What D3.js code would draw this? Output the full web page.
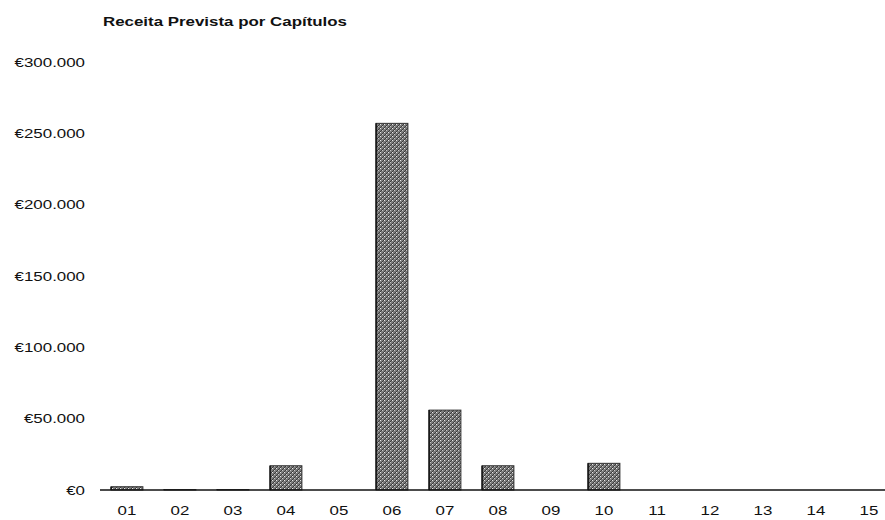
<!DOCTYPE html>
<html>
<head>
<meta charset="utf-8">
<script src="https://cdn.jsdelivr.net/npm/d3@7"></script>
<style>
  html, body { margin: 0; padding: 0; background: #fff; }
  svg { display: block; }
  text { font-family: "Liberation Sans", Arial, sans-serif; fill: #111; }
</style>
</head>
<body>
<svg id="chart" width="885" height="520"></svg>
<script>
const title = "Receita Prevista por Capítulos";
const categories = ["01","02","03","04","05","06","07","08","09","10","11","12","13","14","15"];
const values = [2300, 300, 300, 17000, 0, 257000, 56000, 17000, 0, 18700, 0, 0, 0, 0, 0];
const yTicks = [0, 50000, 100000, 150000, 200000, 250000, 300000];
const yTickLabels = ["€0","€50.000","€100.000","€150.000","€200.000","€250.000","€300.000"];

const svg = d3.select("#chart");
const SX = 1.3; // horizontal stretch of the original type

// halftone-like pattern fill
const defs = svg.append("defs");
const pat = defs.append("pattern")
  .attr("id", "hatch").attr("patternUnits", "userSpaceOnUse")
  .attr("width", 4).attr("height", 4);
pat.append("rect").attr("width", 4).attr("height", 4).attr("fill", "#7c7c7c");
pat.append("path").attr("d", "M0,4 L4,0 M-1,1 L1,-1 M3,5 L5,3")
  .attr("stroke", "#3a3a3a").attr("stroke-width", 1);
pat.append("rect").attr("x", 0).attr("y", 0).attr("width", 1).attr("height", 1).attr("fill", "#e8e8e8");
pat.append("rect").attr("x", 2).attr("y", 2).attr("width", 1).attr("height", 1).attr("fill", "#c8c8c8");

const x = d3.scaleBand().domain(categories).range([100.5, 895.5]).paddingInner(0.40).paddingOuter(0.20);
const y = d3.scaleLinear().domain([0, 300000]).range([490, 62]);

// title
svg.append("text")
  .attr("transform", `translate(103,26) scale(${SX},1)`)
  .attr("font-size", 13).attr("font-weight", "bold")
  .text(title);

// y tick labels
svg.append("g").selectAll("text").data(yTicks).join("text")
  .attr("transform", d => `translate(85,${y(d) + 4.5}) scale(${SX},1)`)
  .attr("text-anchor", "end").attr("font-size", 13)
  .text((d, i) => yTickLabels[i]);

// bars
const bars = svg.append("g").selectAll("g").data(categories).join("g");
bars.append("rect")
  .attr("x", d => x(d))
  .attr("width", x.bandwidth())
  .attr("y", (d, i) => y(values[i]))
  .attr("height", (d, i) => y(0) - y(values[i]))
  .attr("fill", "url(#hatch)")
  .attr("stroke", "#333").attr("stroke-width", 1);
// darker left edge as in the original
bars.append("line")
  .attr("x1", d => x(d)).attr("x2", d => x(d))
  .attr("y1", (d, i) => y(values[i])).attr("y2", y(0))
  .attr("stroke", "#111").attr("stroke-width", 1.5);

// x axis baseline
svg.append("line")
  .attr("x1", 100).attr("x2", 885)
  .attr("y1", y(0)).attr("y2", y(0))
  .attr("stroke", "#111").attr("stroke-width", 1.5);

// x labels
svg.append("g").selectAll("text").data(categories).join("text")
  .attr("transform", d => `translate(${x(d) + x.bandwidth() / 2},${515}) scale(${SX},1)`)
  .attr("text-anchor", "middle").attr("font-size", 13)
  .text(d => d);
</script>
</body>
</html>
